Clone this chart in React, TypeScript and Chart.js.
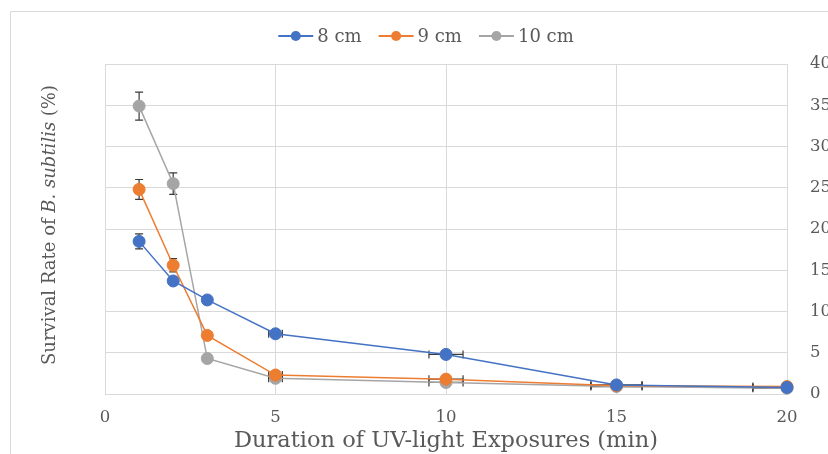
import React, { useEffect, useRef } from "react";
import { Chart, registerables } from "chart.js";

Chart.register(...registerables);

const durations = [1, 2, 3, 5, 10, 15, 20];
const seriesLabels = ["8 cm", "9 cm", "10 cm"];
const survival8 = [18.5, 13.7, 11.4, 7.3, 4.8, 1.1, 0.8];
const survival9 = [24.8, 15.6, 7.1, 2.3, 1.8, 1.0, 0.9];
const survival10 = [34.9, 25.5, 4.3, 1.9, 1.4, 0.9, 0.7];
const yErr8 = [0.9, 0.5, 0.4, 0.3, 0.2, 0.1, 0.1];
const yErr9 = [1.2, 0.8, 0.4, 0.3, 0.2, 0.1, 0.1];
const yErr10 = [1.7, 1.3, 0.3, 0.2, 0.2, 0.1, 0.1];
const xErr = [0, 0, 0, 0.2, 0.5, 0.75, 1.0];
const seriesColors = ["#4472C4", "#ED7D31", "#A5A5A5"];
const xTitle = "Duration of UV-light Exposures (min)";
const yTitleParts = [
  { text: "Survival Rate of ", italic: false },
  { text: "B. subtilis", italic: true },
  { text: " (%)", italic: false },
];

const FONT = "'DejaVu Serif', serif";
const TEXT_COLOR = "#595959";
const GRID_COLOR = "#D9D9D9";

const allValues = [survival8, survival9, survival10];
const allYErr = [yErr8, yErr9, yErr10];

const extrasPlugin = {
  id: "extras",
  beforeDraw(chart: any) {
    const ctx = chart.ctx;
    ctx.save();
    ctx.fillStyle = "#ffffff";
    ctx.fillRect(0, 0, chart.width, chart.height);
    ctx.strokeStyle = GRID_COLOR;
    ctx.lineWidth = 1;
    ctx.beginPath();
    ctx.moveTo(10.5, chart.height);
    ctx.lineTo(10.5, 11.5);
    ctx.lineTo(chart.width, 11.5);
    ctx.stroke();
    ctx.restore();
  },
  beforeDatasetsDraw(chart: any) {
    const ctx = chart.ctx;
    const xs = chart.scales.x;
    const ys = chart.scales.y;
    const a = chart.chartArea;
    ctx.save();
    ctx.beginPath();
    ctx.rect(a.left, a.top - 20, a.right - a.left, a.bottom - a.top + 40);
    ctx.clip();
    ctx.strokeStyle = "#3a3a3a";
    ctx.lineWidth = 1.2;
    const cap = 4;
    allValues.forEach((vals, si) => {
      vals.forEach((v, i) => {
        const x = durations[i];
        const px = xs.getPixelForValue(x);
        const py = ys.getPixelForValue(v);
        const ye = allYErr[si][i];
        if (ye > 0) {
          const t = ys.getPixelForValue(v + ye);
          const b = ys.getPixelForValue(v - ye);
          ctx.beginPath();
          ctx.moveTo(px, t);
          ctx.lineTo(px, b);
          ctx.moveTo(px - cap, t);
          ctx.lineTo(px + cap, t);
          ctx.moveTo(px - cap, b);
          ctx.lineTo(px + cap, b);
          ctx.stroke();
        }
        const xe = xErr[i];
        if (xe > 0) {
          const l = xs.getPixelForValue(x - xe);
          const r = xs.getPixelForValue(x + xe);
          ctx.beginPath();
          ctx.moveTo(l, py);
          ctx.lineTo(r, py);
          ctx.moveTo(l, py - cap);
          ctx.lineTo(l, py + cap);
          ctx.moveTo(r, py - cap);
          ctx.lineTo(r, py + cap);
          ctx.stroke();
        }
      });
    });
    ctx.restore();
  },
  afterDraw(chart: any) {
    const ctx = chart.ctx;
    const a = chart.chartArea;
    ctx.save();
    // legend
    ctx.font = `18px ${FONT}`;
    ctx.textBaseline = "middle";
    const lineLen = 35;
    const gapText = 4;
    const gapItem = 17;
    const widths = seriesLabels.map((l) => ctx.measureText(l).width);
    const total =
      widths.reduce((s, w) => s + lineLen + gapText + w, 0) + gapItem * (seriesLabels.length - 1);
    let lx = 426 - total / 2;
    const ly = 36;
    seriesLabels.forEach((label, i) => {
      ctx.strokeStyle = seriesColors[i];
      ctx.lineWidth = 2;
      ctx.beginPath();
      ctx.moveTo(lx, ly);
      ctx.lineTo(lx + lineLen, ly);
      ctx.stroke();
      ctx.fillStyle = seriesColors[i];
      ctx.beginPath();
      ctx.arc(lx + lineLen / 2, ly, 5, 0, Math.PI * 2);
      ctx.fill();
      ctx.fillStyle = TEXT_COLOR;
      ctx.textAlign = "left";
      ctx.fillText(label, lx + lineLen + gapText, ly + 1);
      lx += lineLen + gapText + widths[i] + gapItem;
    });
    // x title
    ctx.font = `22.5px ${FONT}`;
    ctx.textAlign = "center";
    ctx.fillStyle = TEXT_COLOR;
    ctx.fillText(xTitle, (a.left + a.right) / 2, 441);
    // y title
    ctx.translate(50, 225);
    ctx.rotate(-Math.PI / 2);
    const fonts = yTitleParts.map((p) => `${p.italic ? "italic " : ""}18px ${FONT}`);
    const ws = yTitleParts.map((p, i) => {
      ctx.font = fonts[i];
      return ctx.measureText(p.text).width;
    });
    const tw = ws.reduce((s, w) => s + w, 0);
    let tx = -tw / 2;
    ctx.textAlign = "left";
    yTitleParts.forEach((p, i) => {
      ctx.font = fonts[i];
      ctx.fillText(p.text, tx, 0);
      tx += ws[i];
    });
    ctx.restore();
  },
};

export default function App() {
  const ref = useRef<HTMLCanvasElement | null>(null);
  useEffect(() => {
    if (!ref.current) return;
    const datasets = allValues.map((vals, si) => ({
      label: seriesLabels[si],
      data: vals.map((v, i) => ({ x: durations[i], y: v })),
      borderColor: seriesColors[si],
      backgroundColor: seriesColors[si],
      pointBackgroundColor: seriesColors[si],
      pointBorderColor: seriesColors[si],
      pointRadius: 6,
      pointBorderWidth: 1,
      borderWidth: 1.5,
      tension: 0,
      clip: false as any,
    }));
    const chart = new Chart(ref.current, {
      type: "line",
      data: { datasets },
      options: {
        animation: false,
        responsive: false,
        events: [],
        layout: { padding: { left: 105, top: 64, right: 0, bottom: 0 } },
        plugins: { legend: { display: false }, tooltip: { enabled: false } },
        scales: {
          x: {
            type: "linear",
            min: 0,
            max: 20,
            ticks: {
              stepSize: 5,
              padding: 14,
              color: TEXT_COLOR,
              font: { family: FONT, size: 16.5 },
            },
            grid: { color: GRID_COLOR, drawTicks: false },
            border: { color: GRID_COLOR },
            afterFit: (s: any) => {
              s.height = 60;
            },
          },
          y: {
            type: "linear",
            position: "right",
            min: 0,
            max: 40,
            ticks: {
              stepSize: 5,
              padding: 23,
              color: TEXT_COLOR,
              font: { family: FONT, size: 16.5 },
            },
            grid: { color: GRID_COLOR, drawTicks: false },
            border: { color: GRID_COLOR },
            afterFit: (s: any) => {
              s.width = 63;
            },
          },
        },
      },
      plugins: [extrasPlugin],
    });
    return () => chart.destroy();
  }, []);
  return (
    <div
      style={{
        position: "fixed",
        left: 0,
        top: 0,
        width: 828,
        height: 454,
        overflow: "hidden",
        background: "#fff",
      }}
    >
      <canvas ref={ref} width={850} height={454} style={{ width: 850, height: 454, display: "block" }} />
    </div>
  );
}
